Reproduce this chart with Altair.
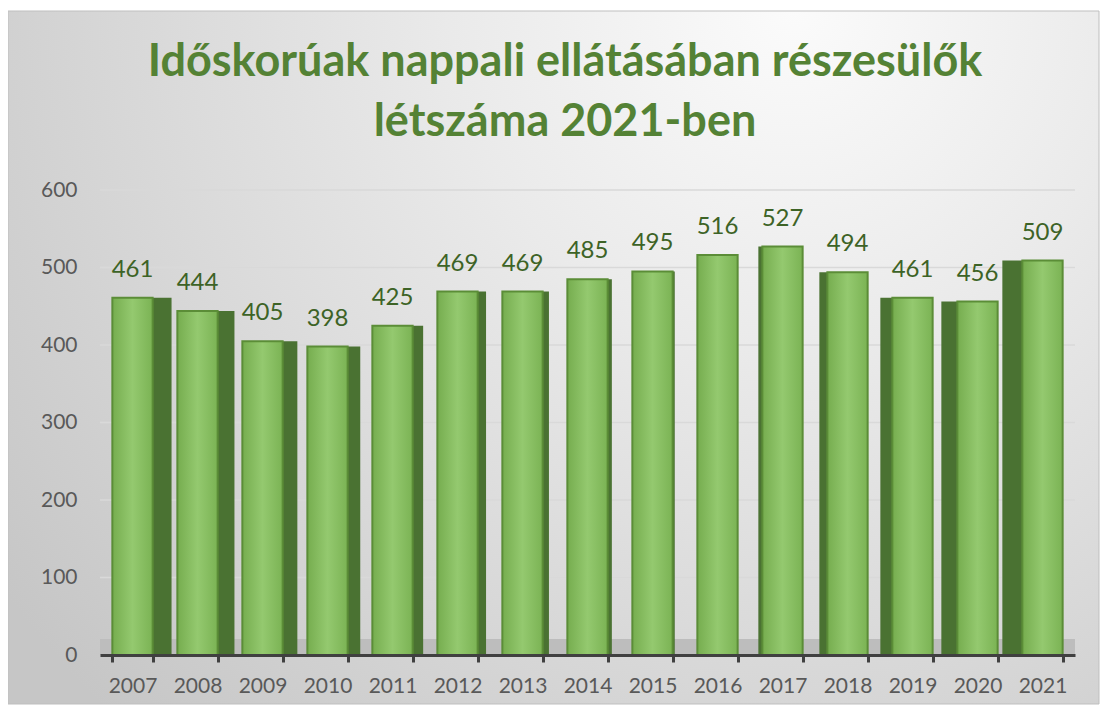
import altair as alt
import pandas as pd

years = [2007, 2008, 2009, 2010, 2011, 2012, 2013, 2014, 2015, 2016, 2017, 2018, 2019, 2020, 2021]
values = [461, 444, 405, 398, 425, 469, 469, 485, 495, 516, 527, 494, 461, 456, 509]
y_ticks = [0, 100, 200, 300, 400, 500, 600]
title_lines = ["Időskorúak nappali ellátásában részesülők", "létszáma 2021-ben"]

df = pd.DataFrame({"year": [str(y) for y in years], "value": values, "yr": years})
grid_df = pd.DataFrame({"value": y_ticks})

W, H = 975, 465
FONT = "Lato"

y_axis = alt.Axis(values=y_ticks, grid=False, domain=False, ticks=False, labelFontSize=21,
                  labelColor="#595959", labelFont=FONT, labelPadding=23, zindex=1)
y_scale = alt.Scale(domain=[0, 600], nice=False)

x_enc = alt.X("year:N", sort=None, title=None,
              scale=alt.Scale(paddingInner=0.38, paddingOuter=0.19),
              axis=alt.Axis(labelAngle=0, labelFontSize=21, labelColor="#595959", labelFont=FONT,
                            domainColor="#404040", domainWidth=3, tickColor="#404040", tickWidth=3,
                            tickSize=7, tickBand="extent", labelPadding=13, zindex=1))
y_enc = alt.Y("value:Q", title=None, scale=y_scale, axis=y_axis)

bg = alt.Chart(alt.Data(values=[{}])).mark_rect(
    color=alt.RadialGradient(gradient="radial", x1=0.72, y1=0.18, r1=0, x2=0.72, y2=0.18, r2=0.9,
                             stops=[alt.GradientStop(color="#fbfbfb", offset=0),
                                    alt.GradientStop(color="#eaeaea", offset=0.35),
                                    alt.GradientStop(color="#c6c6c6", offset=1)]),
    stroke="#bfbfbf", strokeWidth=1
).encode(x=alt.value(-92), x2=alt.value(W + 24), y=alt.value(-179), y2=alt.value(H + 49))

grid = alt.Chart(grid_df).transform_filter("datum.value > 0").mark_rule(
    color="#d9d9d9", strokeWidth=1.5
).encode(y=alt.Y("value:Q", title=None, scale=y_scale, axis=y_axis))

floor = alt.Chart(alt.Data(values=[{}])).mark_rect(color="#bdbdbd").encode(
    x=alt.value(0), x2=alt.value(W), y=alt.value(H - 16), y2=alt.value(H)
)

base = alt.Chart(df).transform_calculate(
    off="datum.yr <= 2016 ? (2016 - datum.yr) * 2.1 : (2016 - datum.yr) * 4"
)

side = base.mark_bar(color="#4a7232").encode(
    x=x_enc, y=y_enc,
    xOffset=alt.XOffset("off:Q", scale=None),
)

front = base.mark_bar(
    color=alt.LinearGradient(gradient="linear", x1=0, x2=1, y1=0, y2=0,
                             stops=[alt.GradientStop(color="#76ad4f", offset=0),
                                    alt.GradientStop(color="#94c96f", offset=0.5),
                                    alt.GradientStop(color="#7bb354", offset=1)]),
    stroke="#5b8d37", strokeWidth=2
).encode(x=x_enc, y=y_enc)

labels = base.mark_text(baseline="bottom", dy=-16, fontSize=24, font=FONT, color="#3d6326").encode(
    x=x_enc, y=y_enc, text=alt.Text("value:Q")
)

t1 = alt.Chart(alt.Data(values=[{"t": title_lines[0]}])).mark_text(
    fontSize=45, font=FONT, fontWeight="bold", color="#548235", align="center", baseline="middle"
).encode(text="t:N", x=alt.value(465), y=alt.value(-128))
t2 = alt.Chart(alt.Data(values=[{"t": title_lines[1]}])).mark_text(
    fontSize=45, font=FONT, fontWeight="bold", color="#548235", align="center", baseline="middle"
).encode(text="t:N", x=alt.value(465), y=alt.value(-68))

chart = alt.layer(bg, grid, floor, side, front, labels, t1, t2).properties(
    width=W, height=H,
    padding={"left": 92, "top": 182, "right": 25, "bottom": 50},
    autosize=alt.AutoSizeParams(type="none"),
).configure_view(stroke=None).configure(background="white")

chart.save("out.html", embed_options={"renderer": "svg", "actions": False})
